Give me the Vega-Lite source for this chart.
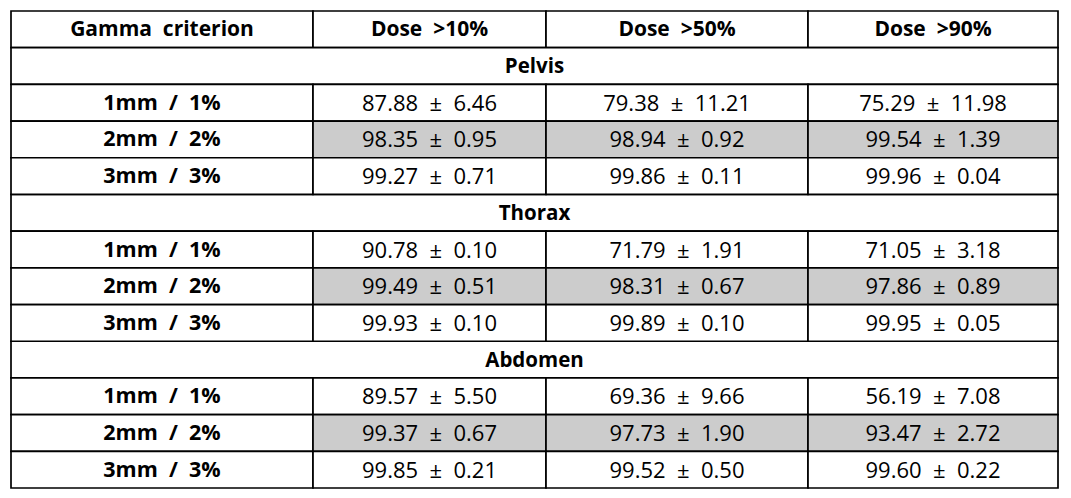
{
  "$schema": "https://vega.github.io/schema/vega-lite/v6.json",
  "width": 1047,
  "height": 477,
  "autosize": "none",
  "padding": {"left": 11, "top": 11, "right": 13, "bottom": 10},
  "background": "white",
  "config": {"view": {"stroke": null}, "font": "Open Sans"},
  "datasets": {
    "columns": [
      {"col": "Gamma criterion", "left": 0, "right": 302},
      {"col": "Dose >10%", "left": 302, "right": 535},
      {"col": "Dose >50%", "left": 535, "right": 797},
      {"col": "Dose >90%", "left": 797, "right": 1047},
      {"col": "all", "left": 0, "right": 1047}
    ],
    "regions": [{"region": "Pelvis"}, {"region": "Thorax"}, {"region": "Abdomen"}],
    "stats": [
      {"region": "Pelvis", "criterion": "1mm / 1%", "dose": "Dose >10%", "mean": 87.88, "sd": 6.46},
      {"region": "Pelvis", "criterion": "1mm / 1%", "dose": "Dose >50%", "mean": 79.38, "sd": 11.21},
      {"region": "Pelvis", "criterion": "1mm / 1%", "dose": "Dose >90%", "mean": 75.29, "sd": 11.98},
      {"region": "Pelvis", "criterion": "2mm / 2%", "dose": "Dose >10%", "mean": 98.35, "sd": 0.95},
      {"region": "Pelvis", "criterion": "2mm / 2%", "dose": "Dose >50%", "mean": 98.94, "sd": 0.92},
      {"region": "Pelvis", "criterion": "2mm / 2%", "dose": "Dose >90%", "mean": 99.54, "sd": 1.39},
      {"region": "Pelvis", "criterion": "3mm / 3%", "dose": "Dose >10%", "mean": 99.27, "sd": 0.71},
      {"region": "Pelvis", "criterion": "3mm / 3%", "dose": "Dose >50%", "mean": 99.86, "sd": 0.11},
      {"region": "Pelvis", "criterion": "3mm / 3%", "dose": "Dose >90%", "mean": 99.96, "sd": 0.04},
      {"region": "Thorax", "criterion": "1mm / 1%", "dose": "Dose >10%", "mean": 90.78, "sd": 0.10},
      {"region": "Thorax", "criterion": "1mm / 1%", "dose": "Dose >50%", "mean": 71.79, "sd": 1.91},
      {"region": "Thorax", "criterion": "1mm / 1%", "dose": "Dose >90%", "mean": 71.05, "sd": 3.18},
      {"region": "Thorax", "criterion": "2mm / 2%", "dose": "Dose >10%", "mean": 99.49, "sd": 0.51},
      {"region": "Thorax", "criterion": "2mm / 2%", "dose": "Dose >50%", "mean": 98.31, "sd": 0.67},
      {"region": "Thorax", "criterion": "2mm / 2%", "dose": "Dose >90%", "mean": 97.86, "sd": 0.89},
      {"region": "Thorax", "criterion": "3mm / 3%", "dose": "Dose >10%", "mean": 99.93, "sd": 0.10},
      {"region": "Thorax", "criterion": "3mm / 3%", "dose": "Dose >50%", "mean": 99.89, "sd": 0.10},
      {"region": "Thorax", "criterion": "3mm / 3%", "dose": "Dose >90%", "mean": 99.95, "sd": 0.05},
      {"region": "Abdomen", "criterion": "1mm / 1%", "dose": "Dose >10%", "mean": 89.57, "sd": 5.50},
      {"region": "Abdomen", "criterion": "1mm / 1%", "dose": "Dose >50%", "mean": 69.36, "sd": 9.66},
      {"region": "Abdomen", "criterion": "1mm / 1%", "dose": "Dose >90%", "mean": 56.19, "sd": 7.08},
      {"region": "Abdomen", "criterion": "2mm / 2%", "dose": "Dose >10%", "mean": 99.37, "sd": 0.67},
      {"region": "Abdomen", "criterion": "2mm / 2%", "dose": "Dose >50%", "mean": 97.73, "sd": 1.90},
      {"region": "Abdomen", "criterion": "2mm / 2%", "dose": "Dose >90%", "mean": 93.47, "sd": 2.72},
      {"region": "Abdomen", "criterion": "3mm / 3%", "dose": "Dose >10%", "mean": 99.85, "sd": 0.21},
      {"region": "Abdomen", "criterion": "3mm / 3%", "dose": "Dose >50%", "mean": 99.52, "sd": 0.50},
      {"region": "Abdomen", "criterion": "3mm / 3%", "dose": "Dose >90%", "mean": 99.60, "sd": 0.22}
    ]
  },
  "encoding": {
    "y": {
      "field": "rowKey",
      "type": "nominal",
      "axis": null,
      "sort": null,
      "scale": {
        "type": "band",
        "paddingInner": 0,
        "paddingOuter": 0,
        "domain": [
          "header",
          "Pelvis", "Pelvis|1mm / 1%", "Pelvis|2mm / 2%", "Pelvis|3mm / 3%",
          "Thorax", "Thorax|1mm / 1%", "Thorax|2mm / 2%", "Thorax|3mm / 3%",
          "Abdomen", "Abdomen|1mm / 1%", "Abdomen|2mm / 2%", "Abdomen|3mm / 3%"
        ]
      }
    }
  },
  "layer": [
    {
      "data": {"name": "columns"},
      "transform": [
        {"filter": "datum.col !== 'all'"},
        {"calculate": "'header'", "as": "rowKey"},
        {"calculate": "(datum.left + datum.right) / 2", "as": "mid"},
        {"calculate": "replace(datum.col, regexp(' ', 'g'), '\u00a0\u00a0')", "as": "label"}
      ],
      "layer": [
        {
          "mark": {"type": "rect", "fill": "white", "stroke": "black", "strokeWidth": 1.7},
          "encoding": {
            "x": {"field": "left", "type": "quantitative", "axis": null, "scale": {"domain": [0, 1047], "nice": false, "zero": false}},
            "x2": {"field": "right"}
          }
        },
        {
          "mark": {"type": "text", "fontSize": 21, "fontWeight": "bold", "color": "black", "baseline": "middle", "align": "center", "dy": 1},
          "encoding": {
            "x": {"field": "mid", "type": "quantitative"},
            "text": {"field": "label"}
          }
        }
      ]
    },
    {
      "data": {"name": "regions"},
      "transform": [
        {"calculate": "datum.region", "as": "rowKey"},
        {"calculate": "'all'", "as": "col"},
        {"lookup": "col", "from": {"data": {"name": "columns"}, "key": "col", "fields": ["left", "right"]}},
        {"calculate": "(datum.left + datum.right) / 2", "as": "mid"}
      ],
      "layer": [
        {
          "mark": {"type": "rect", "fill": "white", "stroke": "black", "strokeWidth": 1.7},
          "encoding": {
            "x": {"field": "left", "type": "quantitative"},
            "x2": {"field": "right"}
          }
        },
        {
          "mark": {"type": "text", "fontSize": 20.5, "fontWeight": "bold", "color": "black", "baseline": "middle", "align": "center", "dy": 1},
          "encoding": {
            "x": {"field": "mid", "type": "quantitative"},
            "text": {"field": "region"}
          }
        }
      ]
    },
    {
      "data": {"name": "stats"},
      "transform": [
        {"aggregate": [{"op": "count", "as": "n"}], "groupby": ["region", "criterion"]},
        {"calculate": "datum.region + '|' + datum.criterion", "as": "rowKey"},
        {"calculate": "'Gamma criterion'", "as": "col"},
        {"lookup": "col", "from": {"data": {"name": "columns"}, "key": "col", "fields": ["left", "right"]}},
        {"calculate": "(datum.left + datum.right) / 2", "as": "mid"},
        {"calculate": "replace(datum.criterion, regexp(' ', 'g'), '\u00a0\u00a0')", "as": "label"}
      ],
      "layer": [
        {
          "mark": {"type": "rect", "fill": "white", "stroke": "black", "strokeWidth": 1.7},
          "encoding": {
            "x": {"field": "left", "type": "quantitative"},
            "x2": {"field": "right"}
          }
        },
        {
          "mark": {"type": "text", "fontSize": 21.5, "fontWeight": "bold", "color": "black", "baseline": "middle", "align": "center", "dy": 1},
          "encoding": {
            "x": {"field": "mid", "type": "quantitative"},
            "text": {"field": "label"}
          }
        }
      ]
    },
    {
      "data": {"name": "stats"},
      "transform": [
        {"calculate": "datum.region + '|' + datum.criterion", "as": "rowKey"},
        {"lookup": "dose", "from": {"data": {"name": "columns"}, "key": "col", "fields": ["left", "right"]}},
        {"calculate": "(datum.left + datum.right) / 2", "as": "mid"},
        {"calculate": "format(datum.mean, '.2f') + '\u00a0\u00a0±\u00a0\u00a0' + format(datum.sd, '.2f')", "as": "label"},
        {"calculate": "datum.criterion === '2mm / 2%' ? 'shaded' : 'plain'", "as": "shade"}
      ],
      "layer": [
        {
          "mark": {"type": "rect", "stroke": "black", "strokeWidth": 1.7},
          "encoding": {
            "x": {"field": "left", "type": "quantitative"},
            "x2": {"field": "right"},
            "fill": {"field": "shade", "type": "nominal", "legend": null, "scale": {"domain": ["plain", "shaded"], "range": ["#ffffff", "#cccccc"]}}
          }
        },
        {
          "mark": {"type": "text", "fontSize": 22, "color": "black", "baseline": "middle", "align": "center", "dy": 1},
          "encoding": {
            "x": {"field": "mid", "type": "quantitative"},
            "text": {"field": "label"}
          }
        }
      ]
    }
  ]
}
